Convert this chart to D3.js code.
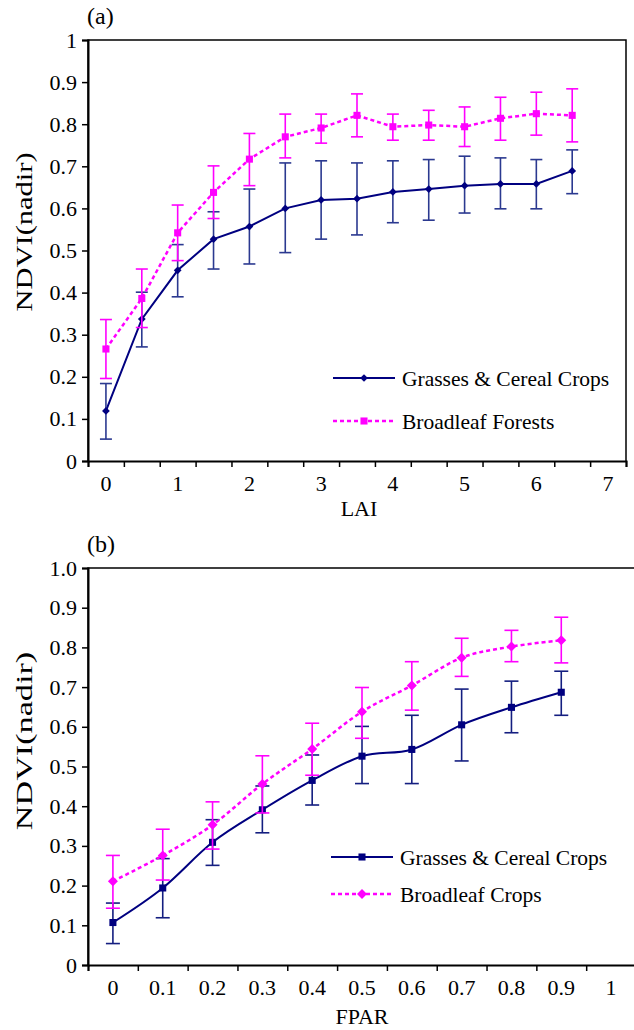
<!DOCTYPE html>
<html>
<head>
<meta charset="utf-8">
<script src="https://cdn.jsdelivr.net/npm/d3@7"></script>
<style>
  body { margin: 0; background: #fff; }
  svg { display: block; }
  text { font-family: "Liberation Serif", "Times New Roman", serif; fill: #000; }
</style>
</head>
<body>
<svg id="chart" width="634" height="1030"></svg>
<script>
// ---- panel (a): NDVI vs LAI ----
const laiCats = [0, 0.5, 1, 1.5, 2, 2.5, 3, 3.5, 4, 4.5, 5, 5.5, 6, 6.5, 7];
const laiGrassMean = [0.119, 0.337, 0.453, 0.527, 0.557, 0.600, 0.620, 0.623, 0.639, 0.646, 0.654, 0.658, 0.658, 0.689];
const laiGrassHi   = [0.184, 0.401, 0.514, 0.592, 0.646, 0.708, 0.713, 0.708, 0.713, 0.716, 0.724, 0.720, 0.716, 0.739];
const laiGrassLo   = [0.052, 0.271, 0.390, 0.456, 0.468, 0.495, 0.527, 0.537, 0.566, 0.572, 0.589, 0.599, 0.599, 0.635];
const laiForestMean = [0.266, 0.386, 0.542, 0.638, 0.717, 0.770, 0.791, 0.821, 0.794, 0.798, 0.794, 0.814, 0.825, 0.821];
const laiForestHi   = [0.336, 0.456, 0.608, 0.701, 0.778, 0.824, 0.824, 0.872, 0.824, 0.833, 0.841, 0.864, 0.876, 0.884];
const laiForestLo   = [0.196, 0.317, 0.476, 0.576, 0.654, 0.720, 0.755, 0.770, 0.762, 0.762, 0.747, 0.762, 0.774, 0.758];

// ---- panel (b): NDVI vs FPAR ----
const fparCats = [0, 0.1, 0.2, 0.3, 0.4, 0.5, 0.6, 0.7, 0.8, 0.9, 1];
const fparGrassMean = [0.107, 0.194, 0.309, 0.391, 0.465, 0.526, 0.543, 0.605, 0.649, 0.687];
const fparGrassHi   = [0.156, 0.268, 0.366, 0.451, 0.529, 0.601, 0.629, 0.695, 0.715, 0.740];
const fparGrassLo   = [0.054, 0.119, 0.251, 0.333, 0.403, 0.457, 0.457, 0.514, 0.585, 0.629];
const fparCropMean = [0.211, 0.276, 0.353, 0.456, 0.544, 0.638, 0.704, 0.774, 0.802, 0.818];
const fparCropHi   = [0.276, 0.342, 0.411, 0.527, 0.609, 0.699, 0.764, 0.823, 0.843, 0.876];
const fparCropLo   = [0.143, 0.214, 0.292, 0.383, 0.478, 0.571, 0.642, 0.727, 0.764, 0.761];

const yTicks = [0, 0.1, 0.2, 0.3, 0.4, 0.5, 0.6, 0.7, 0.8, 0.9, 1];

const NAVY = '#000080', MAGENTA = '#ff00ff';
const svg = d3.select('#chart');

function series(name, mean, hi, lo, opt) {
    return {name, opt, pts: mean.map((m, i) => ({i, m, hi: hi[i], lo: lo[i]}))};
}

function drawPanel(cfg) {
    const g = svg.append('g').attr('class', 'panel');
    const x = d3.scaleBand().domain(d3.range(cfg.cats.length)).range([cfg.left, cfg.right]).padding(0);
    const xi = d3.scaleLinear().domain([0, cfg.cats.length]).range([cfg.left, cfg.right]);
    const y = d3.scaleLinear().domain([0, 1]).range([cfg.bottom, cfg.top]);
    const cx = i => x(i) + x.bandwidth() / 2;

    // frame
    g.append('path')
        .attr('d', `M${cfg.left},${cfg.bottom}V${cfg.top}H${cfg.right}V${cfg.bottom}`)
        .attr('fill', 'none').attr('stroke', '#000').attr('stroke-width', 1.5);

    // y axis
    const ya = g.append('g').attr('transform', `translate(${cfg.left},0)`)
        .call(d3.axisLeft(y).tickValues(yTicks).tickSize(6).tickPadding(5).tickFormat(cfg.yFmt));
    ya.select('.domain').attr('stroke-width', 2);
    ya.selectAll('.tick line').attr('stroke-width', 1.5);
    ya.selectAll('text').style('font-size', '22px').attr('fill', '#000');

    // x axis: ticks on category boundaries, labels at centres
    const xa = g.append('g').attr('transform', `translate(0,${cfg.bottom})`)
        .call(d3.axisBottom(xi).tickValues(d3.range(cfg.cats.length + 1)).tickSize(6).tickFormat(''));
    xa.select('.domain').attr('stroke-width', 2);
    xa.selectAll('.tick line').attr('stroke-width', 1.5);
    const xl = g.append('g').attr('transform', `translate(0,${cfg.bottom})`)
        .call(d3.axisBottom(x).tickSize(0).tickPadding(14)
            .tickValues(d3.range(cfg.cats.length).filter(i => i % cfg.labelEvery === 0))
            .tickFormat(i => cfg.xFmt(cfg.cats[i])));
    xl.select('.domain').remove();
    xl.selectAll('text').style('font-size', '22px').attr('fill', '#000');

    // axis titles
    g.append('text').attr('x', cfg.xTitle[0]).attr('y', cfg.xTitle[1])
        .attr('text-anchor', 'middle').style('font-size', '22px').text(cfg.xLabel);
    // y title: natural length of "NDVI(nadir)" at 24px is ~125px, stretched along its length
    g.append('text')
        .attr('transform', `translate(32,${cfg.yTitle[0]}) rotate(-90) scale(${cfg.yTitle[1] / 125},1)`)
        .attr('text-anchor', 'middle').style('font-size', '24px')
        .text('NDVI(nadir)');
    g.append('text').attr('x', cfg.left - 1).attr('y', cfg.tagY)
        .style('font-size', '24px').text(cfg.tag);

    cfg.series.forEach(s => {
        const sg = g.append('g').attr('class', 'series');
        const line = d3.line().x(d => cx(d.i)).y(d => y(d.m)).curve(cfg.curve);
        sg.append('path').datum(s.pts)
            .attr('d', line).attr('fill', 'none')
            .attr('stroke', s.opt.color).attr('stroke-width', s.opt.lw)
            .attr('stroke-dasharray', s.opt.dash);
        // error bars
        const eb = sg.selectAll('g.err').data(s.pts).join('g').attr('class', 'err')
            .attr('stroke', s.opt.errColor).attr('stroke-width', 1.6);
        eb.append('line').attr('x1', d => cx(d.i)).attr('x2', d => cx(d.i))
            .attr('y1', d => y(d.hi)).attr('y2', d => y(d.lo));
        eb.append('line').attr('x1', d => cx(d.i) - cfg.cap).attr('x2', d => cx(d.i) + cfg.cap)
            .attr('y1', d => y(d.hi)).attr('y2', d => y(d.hi));
        eb.append('line').attr('x1', d => cx(d.i) - cfg.cap).attr('x2', d => cx(d.i) + cfg.cap)
            .attr('y1', d => y(d.lo)).attr('y2', d => y(d.lo));
        // markers
        sg.selectAll('path.mk').data(s.pts).join('path').attr('class', 'mk')
            .attr('d', d3.symbol(d3.symbolSquare, s.opt.size))
            .attr('transform', d => `translate(${cx(d.i)},${y(d.m)}) rotate(${s.opt.diamond ? 45 : 0})`)
            .attr('fill', s.opt.color);
    });

    // legend
    const lg = g.append('g').attr('class', 'legend');
    cfg.series.forEach((s, k) => {
        const ly = cfg.legend.y + k * cfg.legend.dy;
        lg.append('line').attr('x1', cfg.legend.x).attr('x2', cfg.legend.x + 62)
            .attr('y1', ly).attr('y2', ly)
            .attr('stroke', s.opt.color).attr('stroke-width', s.opt.lw)
            .attr('stroke-dasharray', s.opt.dash);
        lg.append('path').attr('d', d3.symbol(d3.symbolSquare, s.opt.size))
            .attr('transform', `translate(${cfg.legend.x + 31},${ly}) rotate(${s.opt.diamond ? 45 : 0})`)
            .attr('fill', s.opt.color);
        lg.append('text').attr('x', cfg.legend.x + 69).attr('y', ly + 7.5)
            .style('font-size', '21.5px').text(s.name);
    });
}

drawPanel({
    left: 88, right: 626, top: 40, bottom: 461,
    cats: laiCats, labelEvery: 2, xFmt: d3.format('~g'), yFmt: d3.format('~g'),
    xLabel: 'LAI', xTitle: [359, 516], yTitle: [232, 159], tag: '(a)', tagY: 24,
    curve: d3.curveLinear, cap: 6,
    legend: {x: 333, y: 378, dy: 43},
    series: [
        series('Grasses & Cereal Crops', laiGrassMean, laiGrassHi, laiGrassLo,
            {color: NAVY, errColor: '#2b3990', lw: 2, dash: null, size: 30, diamond: true}),
        series('Broadleaf Forests', laiForestMean, laiForestHi, laiForestLo,
            {color: MAGENTA, errColor: MAGENTA, lw: 2.5, dash: '4,3', size: 50, diamond: false})
    ]
});

drawPanel({
    left: 88, right: 636, top: 568, bottom: 965,
    cats: fparCats, labelEvery: 1, xFmt: d3.format('~g'), yFmt: d => d === 0 ? '0' : d.toFixed(1),
    xLabel: 'FPAR', xTitle: [362, 1024], yTitle: [741, 178], tag: '(b)', tagY: 552,
    curve: d3.curveCardinal.tension(0), cap: 7,
    legend: {x: 331, y: 857, dy: 37},
    series: [
        series('Grasses & Cereal Crops', fparGrassMean, fparGrassHi, fparGrassLo,
            {color: NAVY, errColor: '#141e80', lw: 2, dash: null, size: 50, diamond: false}),
        series('Broadleaf Crops', fparCropMean, fparCropHi, fparCropLo,
            {color: MAGENTA, errColor: MAGENTA, lw: 2.5, dash: '4,3', size: 50, diamond: true})
    ]
});
</script>
</body>
</html>
